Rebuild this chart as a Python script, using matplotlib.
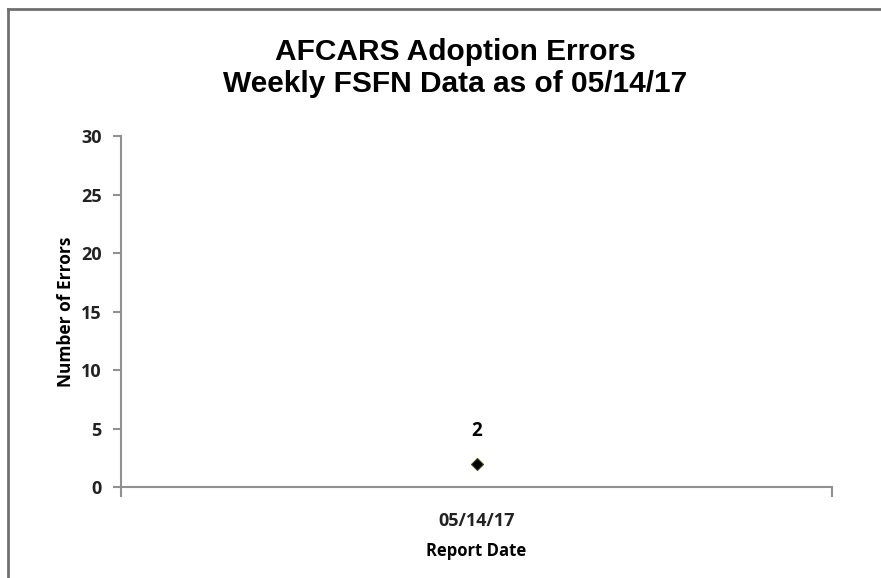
import matplotlib
matplotlib.use("Agg")
from matplotlib import pyplot as plt
from matplotlib.lines import Line2D

# weekly error counts
report_dates = ["05/14/17"]
error_counts = [2]
y_ticks = [0, 5, 10, 15, 20, 25, 30]

title = "AFCARS Adoption Errors\nWeekly FSFN Data as of 05/14/17"
label_font = "Open Sans"

fig = plt.figure(figsize=(8.81, 5.78), dpi=100)
fig.patch.set_facecolor("white")

# frame edges of the chart area (top and left only show)
fig.add_artist(Line2D([8 / 881, 8 / 881], [0, 1 - 9 / 578], transform=fig.transFigure,
                      color="#707070", lw=2))
fig.add_artist(Line2D([8 / 881, 1], [1 - 9 / 578, 1 - 9 / 578], transform=fig.transFigure,
                      color="#707070", lw=2))

ax = fig.add_axes([121 / 881, 1 - 487 / 578, (832 - 121) / 881, (487 - 136) / 578])
x = list(range(len(report_dates)))
ax.plot(x, error_counts, linestyle="none", marker="D", markersize=6,
        markerfacecolor="black", markeredgecolor="#3a4a10", markeredgewidth=0.8)
for xi, v in zip(x, error_counts):
    ax.annotate(str(v), (xi, v), xytext=(0, 16), textcoords="offset points",
                ha="center", va="bottom", fontsize=13.5, fontweight="bold",
                fontfamily=label_font)

ax.set_xlim(-0.5, len(report_dates) - 0.5)
ax.set_ylim(0, 30)
ax.set_yticks(y_ticks)
ax.set_xticks(x)
ax.set_xticklabels(report_dates)
ax.set_xticks([i - 0.5 for i in range(len(report_dates) + 1)], minor=True)
ax.tick_params(axis="x", which="major", length=0, pad=18)
ax.tick_params(axis="x", which="minor", length=7, width=1.5, color="#909090", direction="out")
ax.tick_params(axis="y", length=6, width=1.5, color="#909090", direction="out", pad=8)

for lbl in ax.get_yticklabels() + ax.get_xticklabels():
    lbl.set_fontfamily(label_font)
    lbl.set_fontweight("bold")
    lbl.set_fontsize(13)
    lbl.set_color("#222222")

for side in ["top", "right"]:
    ax.spines[side].set_visible(False)
for side in ["left", "bottom"]:
    ax.spines[side].set_color("#909090")
    ax.spines[side].set_linewidth(1.5)

ax.set_ylabel("Number of Errors", fontsize=12.5, fontweight="bold", fontfamily=label_font,
              labelpad=4)
ax.set_xlabel("Report Date", fontsize=12, fontweight="bold", fontfamily=label_font,
              labelpad=9)

fig.text(455 / 881, 1 - 68 / 578, title, ha="center", va="center", fontsize=21.5,
         fontweight="bold", fontfamily="Liberation Sans", linespacing=1.2)

fig.savefig("out.png", dpi=100)
